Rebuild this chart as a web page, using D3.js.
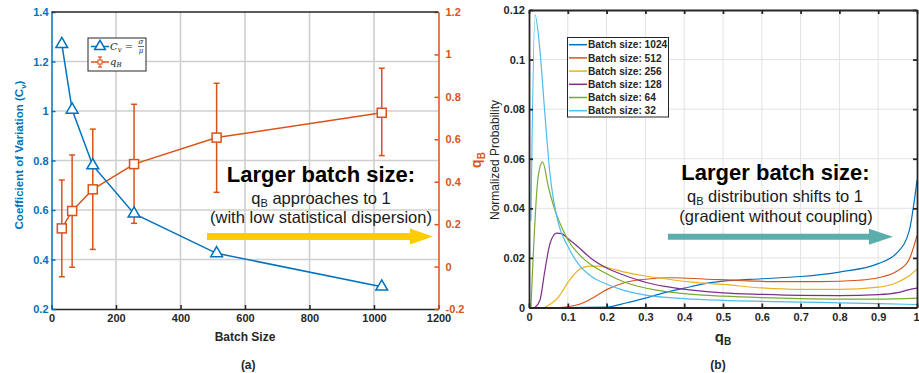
<!DOCTYPE html>
<html lang="en">
<head>
<meta charset="UTF-8">
<title>Batch size vs qB</title>
<style>
  body { margin: 0; background: #fff; }
  svg { display: block; font-family: "Liberation Sans", Arial, sans-serif; }
  .tick text { font-size: 11px; font-weight: bold; }
</style>
</head>
<body>
<script src="https://cdn.jsdelivr.net/npm/d3@7/dist/d3.min.js"></script>
<script>
// ---- (a) Cv and qB against batch size ----
var batchSizes = [32, 64, 128, 256, 512, 1024];
var cvValues = [1.27, 1.005, 0.78, 0.585, 0.425, 0.29];
var qbMean = [0.18, 0.262, 0.364, 0.483, 0.608, 0.725];
var qbLow = [-0.048, -0.003, 0.081, 0.204, 0.35, 0.523];
var qbHigh = [0.408, 0.526, 0.648, 0.765, 0.864, 0.935];
var xTicksA = [0, 200, 400, 600, 800, 1000, 1200];
var cvTicks = [0.2, 0.4, 0.6, 0.8, 1, 1.2, 1.4];
var qbTicks = [-0.2, 0, 0.2, 0.4, 0.6, 0.8, 1, 1.2];

// ---- (b) qB distributions ----
var legendB = ["Batch size: 1024", "Batch size: 512", "Batch size: 256", "Batch size: 128", "Batch size: 64", "Batch size: 32"];
var colorsB = ["#0072BD", "#D95319", "#EDB120", "#7E2F8E", "#77AC30", "#4DBEEE"];
var q1024 = [0.02, 0.1, 0.2, 0.25, 0.3, 0.35, 0.4, 0.45, 0.5, 0.6, 0.7, 0.8, 0.9, 0.95, 0.98, 1.0];
var p1024 = [0, 0, 0.0002, 0.0018, 0.0038, 0.006, 0.0078, 0.0095, 0.0106, 0.0116, 0.0125, 0.0143, 0.0177, 0.0223, 0.031, 0.0513];
var q512 = [0.04, 0.08, 0.1, 0.13, 0.16, 0.2, 0.25, 0.3, 0.37, 0.45, 0.55, 0.65, 0.75, 0.85, 0.9, 0.95, 0.98, 1.0];
var p512 = [0, 0, 0.0003, 0.0013, 0.0035, 0.0072, 0.0102, 0.0114, 0.012, 0.0115, 0.0108, 0.0104, 0.0104, 0.011, 0.012, 0.0148, 0.0195, 0.029];
var q256 = [0.04, 0.076, 0.1, 0.127, 0.153, 0.18, 0.204, 0.247, 0.3, 0.35, 0.42, 0.5, 0.6, 0.7, 0.8, 0.9, 0.95, 0.98, 1.0];
var p256 = [0, 0.0042, 0.01, 0.015, 0.0166, 0.0167, 0.016, 0.0143, 0.0127, 0.0116, 0.0102, 0.0093, 0.0079, 0.0073, 0.0073, 0.0082, 0.0102, 0.0128, 0.0155];
var q128 = [0.015, 0.028, 0.041, 0.054, 0.071, 0.084, 0.101, 0.127, 0.161, 0.204, 0.247, 0.3, 0.35, 0.42, 0.5, 0.6, 0.7, 0.8, 0.9, 0.95, 0.98, 1.0];
var p128 = [0, 0.0028, 0.015, 0.0257, 0.03, 0.0298, 0.0277, 0.0244, 0.0197, 0.0156, 0.0129, 0.0102, 0.0085, 0.007, 0.0059, 0.0053, 0.0049, 0.0048, 0.0052, 0.006, 0.0072, 0.0078];
var q64 = [0.005, 0.024, 0.035, 0.05, 0.067, 0.084, 0.101, 0.136, 0.2, 0.247, 0.333, 0.42, 0.5, 0.6, 0.7, 0.8, 0.9, 1.0];
var p64 = [0, 0.0533, 0.0587, 0.0486, 0.0392, 0.0325, 0.0271, 0.0203, 0.0136, 0.0102, 0.0069, 0.0053, 0.0046, 0.004, 0.0036, 0.0034, 0.0034, 0.0038];
var q32 = [0.005, 0.0155, 0.028, 0.04, 0.054, 0.0756, 0.101, 0.127, 0.161, 0.204, 0.247, 0.3, 0.4, 0.5, 0.6, 0.7, 0.8, 0.9, 1.0];
var p32 = [0.035, 0.118, 0.104, 0.08, 0.054, 0.034, 0.0244, 0.0176, 0.0125, 0.0092, 0.0068, 0.005, 0.0036, 0.0029, 0.0025, 0.0022, 0.0019, 0.0016, 0.0012];
var xTicksB = [0, 0.1, 0.2, 0.3, 0.4, 0.5, 0.6, 0.7, 0.8, 0.9, 1];
var yTicksB = [0, 0.02, 0.04, 0.06, 0.08, 0.1, 0.12];

var width = 919, height = 373;
var svg = d3.select("body").append("svg").attr("width", width).attr("height", height);

var blue = "#0072BD", orange = "#D95319", dark = "#262626";

// ================= panel (a) =================
var xA = d3.scaleLinear().domain([0, 1200]).range([51.5, 438.5]);
var yCv = d3.scaleLinear().domain([0.2, 1.4]).range([309, 12]);
var yQb = d3.scaleLinear().domain([-0.2, 1.2]).range([309, 12]);

var gA = svg.append("g");

// grid
gA.selectAll(".vgrid").data(xTicksA.slice(1, -1)).enter().append("line")
  .attr("x1", function(d) { return xA(d); }).attr("x2", function(d) { return xA(d); })
  .attr("y1", yCv(0.2)).attr("y2", yCv(1.4))
  .attr("stroke", "#cfcfcf").attr("stroke-width", 1.6);
gA.selectAll(".hgrid").data(cvTicks.slice(1, -1)).enter().append("line")
  .attr("x1", xA(0)).attr("x2", xA(1200))
  .attr("y1", function(d) { return yCv(d); }).attr("y2", function(d) { return yCv(d); })
  .attr("stroke", "#cfcfcf").attr("stroke-width", 1.6);

// axes
var axB = gA.append("g").attr("transform", "translate(0," + yCv(0.2) + ")")
  .call(d3.axisBottom(xA).tickValues(xTicksA).tickSizeInner(-4).tickSizeOuter(0).tickPadding(5).tickFormat(function(d) { return String(d); }));
axB.selectAll("line, path").attr("stroke", dark).attr("stroke-width", 1.5);
axB.selectAll("text").attr("fill", dark);

var axL = gA.append("g").attr("transform", "translate(" + xA(0) + ",0)")
  .call(d3.axisLeft(yCv).tickValues(cvTicks).tickSizeInner(-4).tickSizeOuter(0).tickPadding(3).tickFormat(function(d) { return String(d); }));
axL.selectAll("line, path").attr("stroke", blue).attr("stroke-width", 1.5);
axL.selectAll("text").attr("fill", blue);

var axR = gA.append("g").attr("transform", "translate(" + xA(1200) + ",0)")
  .call(d3.axisRight(yQb).tickValues(qbTicks).tickSizeInner(-4).tickSizeOuter(0).tickPadding(7).tickFormat(function(d) { return String(d); }));
axR.selectAll("line, path").attr("stroke", orange).attr("stroke-width", 1.5);
axR.selectAll("text").attr("fill", orange);

gA.append("line").attr("x1", xA(0)).attr("x2", xA(1200)).attr("y1", yCv(1.4)).attr("y2", yCv(1.4))
  .attr("stroke", dark).attr("stroke-width", 1.5);

// axis labels
gA.append("text").attr("x", xA(600)).attr("y", 341).attr("text-anchor", "middle")
  .attr("font-size", 12).attr("font-weight", "bold").attr("fill", dark).text("Batch Size");
var cvLab = gA.append("text").attr("transform", "translate(23,155) rotate(-90)").attr("text-anchor", "middle")
  .attr("font-size", 11.5).attr("font-weight", "bold").attr("fill", blue);
cvLab.append("tspan").text("Coefficient of Variation (C");
cvLab.append("tspan").attr("font-size", 8).attr("dy", 3).text("v");
cvLab.append("tspan").attr("dy", -3).text(")");
var qbLab = gA.append("text").attr("transform", "translate(481,160) rotate(-90)").attr("text-anchor", "middle")
  .attr("font-size", 14).attr("font-weight", "bold").attr("fill", orange);
qbLab.append("tspan").text("q");
qbLab.append("tspan").attr("font-size", 10).attr("dy", 4).text("B");
gA.append("text").attr("x", xA(610)).attr("y", 369).attr("text-anchor", "middle")
  .attr("font-size", 12).attr("font-weight", "bold").attr("fill", dark).text("(a)");

// qB with error bars
var qbData = batchSizes.map(function(b, i) { return { b: b, m: qbMean[i], lo: qbLow[i], hi: qbHigh[i] }; });
gA.append("path").datum(qbData)
  .attr("fill", "none").attr("stroke", orange).attr("stroke-width", 1.5)
  .attr("d", d3.line().x(function(d) { return xA(d.b); }).y(function(d) { return yQb(d.m); }));
var eb = gA.selectAll(".eb").data(qbData).enter().append("g");
eb.append("line").attr("x1", function(d) { return xA(d.b); }).attr("x2", function(d) { return xA(d.b); })
  .attr("y1", function(d) { return yQb(d.lo); }).attr("y2", function(d) { return yQb(d.hi); })
  .attr("stroke", orange).attr("stroke-width", 1.5);
eb.append("line").attr("x1", function(d) { return xA(d.b) - 3; }).attr("x2", function(d) { return xA(d.b) + 3; })
  .attr("y1", function(d) { return yQb(d.lo); }).attr("y2", function(d) { return yQb(d.lo); })
  .attr("stroke", orange).attr("stroke-width", 1.5);
eb.append("line").attr("x1", function(d) { return xA(d.b) - 3; }).attr("x2", function(d) { return xA(d.b) + 3; })
  .attr("y1", function(d) { return yQb(d.hi); }).attr("y2", function(d) { return yQb(d.hi); })
  .attr("stroke", orange).attr("stroke-width", 1.5);
eb.append("rect").attr("x", function(d) { return xA(d.b) - 4.5; }).attr("y", function(d) { return yQb(d.m) - 4.5; })
  .attr("width", 9).attr("height", 9).attr("fill", "#fff").attr("stroke", orange).attr("stroke-width", 1.5);

// Cv line
gA.append("path").datum(batchSizes)
  .attr("fill", "none").attr("stroke", blue).attr("stroke-width", 1.5)
  .attr("d", d3.line().x(function(d) { return xA(d); }).y(function(d, i) { return yCv(cvValues[i]); }));
gA.selectAll(".tri").data(batchSizes).enter().append("path")
  .attr("transform", function(d, i) { return "translate(" + xA(d) + "," + yCv(cvValues[i]) + ")"; })
  .attr("d", d3.symbol(d3.symbolTriangle, 60))
  .attr("fill", "#fff").attr("stroke", blue).attr("stroke-width", 1.5);

// legend (a)
var lgA = gA.append("g");
lgA.append("rect").attr("x", 88).attr("y", 38).attr("width", 58).attr("height", 33)
  .attr("fill", "#fff").attr("stroke", dark).attr("stroke-width", 1);
lgA.append("line").attr("x1", 91).attr("x2", 109).attr("y1", 46.5).attr("y2", 46.5).attr("stroke", blue).attr("stroke-width", 1.5);
lgA.append("path").attr("transform", "translate(100,46.5)").attr("d", d3.symbol(d3.symbolTriangle, 50))
  .attr("fill", "#fff").attr("stroke", blue).attr("stroke-width", 1.5);
var cvT = lgA.append("text").attr("x", 110).attr("y", 50).attr("font-family", "'DejaVu Serif', serif").attr("fill", dark).attr("font-size", 10);
cvT.append("tspan").attr("font-style", "italic").text("C");
cvT.append("tspan").attr("font-style", "italic").attr("font-size", 7).attr("dy", 2).text("v");
cvT.append("tspan").attr("dy", -2).text(" = ");
lgA.append("text").attr("x", 141).attr("y", 44).attr("text-anchor", "middle").attr("font-family", "'DejaVu Serif', serif")
  .attr("font-style", "italic").attr("font-size", 7).attr("fill", dark).text("σ");
lgA.append("line").attr("x1", 138).attr("x2", 144).attr("y1", 46.5).attr("y2", 46.5).attr("stroke", dark).attr("stroke-width", 0.7);
lgA.append("text").attr("x", 141).attr("y", 52.5).attr("text-anchor", "middle").attr("font-family", "'DejaVu Serif', serif")
  .attr("font-style", "italic").attr("font-size", 7).attr("fill", dark).text("μ");
lgA.append("line").attr("x1", 91).attr("x2", 109).attr("y1", 62).attr("y2", 62).attr("stroke", orange).attr("stroke-width", 1.5);
lgA.append("line").attr("x1", 100).attr("x2", 100).attr("y1", 57).attr("y2", 67).attr("stroke", orange).attr("stroke-width", 1.2);
lgA.append("line").attr("x1", 98).attr("x2", 102).attr("y1", 57).attr("y2", 57).attr("stroke", orange).attr("stroke-width", 1.2);
lgA.append("line").attr("x1", 98).attr("x2", 102).attr("y1", 67).attr("y2", 67).attr("stroke", orange).attr("stroke-width", 1.2);
lgA.append("rect").attr("x", 98).attr("y", 60).attr("width", 4).attr("height", 4).attr("fill", "#fff").attr("stroke", orange).attr("stroke-width", 1);
var qT = lgA.append("text").attr("x", 110).attr("y", 65).attr("font-family", "'DejaVu Serif', serif").attr("font-style", "italic").attr("fill", dark).attr("font-size", 10);
qT.append("tspan").text("q");
qT.append("tspan").attr("font-size", 7).attr("dy", 2).text("B");

// annotation (a)
gA.append("text").attr("x", 321).attr("y", 182).attr("text-anchor", "middle")
  .attr("font-size", 22).attr("font-weight", "bold").attr("fill", "#000").text("Larger batch size:");
var a1 = gA.append("text").attr("x", 321).attr("y", 204).attr("text-anchor", "middle").attr("font-size", 16.5).attr("fill", "#1a1a1a");
a1.append("tspan").text("q");
a1.append("tspan").attr("font-size", 11).attr("dy", 3).text("B");
a1.append("tspan").attr("dy", -3).text(" approaches to 1");
gA.append("text").attr("x", 321).attr("y", 223).attr("text-anchor", "middle").attr("font-size", 16.5).attr("fill", "#1a1a1a")
  .text("(with low statistical dispersion)");
function arrow(g, x0, x1, y, shaft, headW, headL, color) {
  g.append("path").attr("fill", color)
    .attr("d", "M" + x0 + "," + (y - shaft / 2) + "H" + (x1 - headL) + "V" + (y - headW / 2) + "L" + x1 + "," + y +
      "L" + (x1 - headL) + "," + (y + headW / 2) + "V" + (y + shaft / 2) + "H" + x0 + "Z");
}
arrow(gA, xA(482), xA(1183), yQb(0.142), 7, 16, 23, "#FFCC00");

// ================= panel (b) =================
var xB = d3.scaleLinear().domain([0, 1]).range([529, 917]);
var yB = d3.scaleLinear().domain([0, 0.12]).range([307.5, 10]);
var gB = svg.append("g");

gB.selectAll(".vgrid").data(xTicksB.slice(1, -1)).enter().append("line")
  .attr("x1", function(d) { return xB(d); }).attr("x2", function(d) { return xB(d); })
  .attr("y1", yB(0)).attr("y2", yB(0.12)).attr("stroke", "#e2e2e2").attr("stroke-width", 1);
gB.selectAll(".hgrid").data(yTicksB.slice(1, -1)).enter().append("line")
  .attr("x1", xB(0)).attr("x2", xB(1))
  .attr("y1", function(d) { return yB(d); }).attr("y2", function(d) { return yB(d); })
  .attr("stroke", "#e2e2e2").attr("stroke-width", 1);

var seriesB = [[q1024, p1024], [q512, p512], [q256, p256], [q128, p128], [q64, p64], [q32, p32]];
var lineB = d3.line().x(function(d) { return xB(d[0]); }).y(function(d) { return yB(d[1]); }).curve(d3.curveMonotoneX);
seriesB.forEach(function(s, i) {
  var pts = s[0].map(function(q, j) { return [q, s[1][j]]; });
  gB.append("path").datum(pts).attr("fill", "none").attr("stroke", colorsB[i]).attr("stroke-width", 1.2).attr("d", lineB);
});

var bxB = gB.append("g").attr("transform", "translate(0," + yB(0) + ")")
  .call(d3.axisBottom(xB).tickValues(xTicksB).tickSizeInner(-4).tickSizeOuter(0).tickPadding(6).tickFormat(function(d) { return String(d); }));
// last label sits on the window edge: nudge it inward so it stays visible
bxB.selectAll(".tick text").filter(function(d) { return d === 1; }).attr("text-anchor", "end").attr("dx", 2);
var byB = gB.append("g").attr("transform", "translate(" + xB(0) + ",0)")
  .call(d3.axisLeft(yB).tickValues(yTicksB).tickSizeInner(-4).tickSizeOuter(0).tickPadding(4).tickFormat(function(d) { return String(d); }));
var txB = gB.append("g").attr("transform", "translate(0," + yB(0.12) + ")")
  .call(d3.axisTop(xB).tickValues(xTicksB).tickSizeInner(-4).tickSizeOuter(0).tickFormat(""));
var ryB = gB.append("g").attr("transform", "translate(" + xB(1) + ",0)")
  .call(d3.axisRight(yB).tickValues(yTicksB).tickSizeInner(-4).tickSizeOuter(0).tickFormat(""));
[bxB, byB, txB, ryB].forEach(function(a) {
  a.selectAll("line, path").attr("stroke", dark).attr("stroke-width", 1.8);
  a.selectAll("text").attr("fill", dark);
});

gB.append("text").attr("transform", "translate(499,160) rotate(-90)").attr("text-anchor", "middle")
  .attr("font-size", 12).attr("fill", dark).text("Normalized Probability");
var qx = gB.append("text").attr("x", 723).attr("y", 342).attr("text-anchor", "middle")
  .attr("font-size", 15).attr("font-weight", "bold").attr("fill", dark);
qx.append("tspan").text("q");
qx.append("tspan").attr("font-size", 10).attr("dy", 3).text("B");
gB.append("text").attr("x", 718).attr("y", 369).attr("text-anchor", "middle")
  .attr("font-size", 12).attr("font-weight", "bold").attr("fill", dark).text("(b)");

// legend (b)
var lgB = gB.append("g");
lgB.append("rect").attr("x", 567.5).attr("y", 37.5).attr("width", 101).attr("height", 79.5)
  .attr("fill", "#fff").attr("stroke", dark).attr("stroke-width", 1);
legendB.forEach(function(name, i) {
  var y = 44.7 + i * 13.2;
  lgB.append("line").attr("x1", 569).attr("x2", 587).attr("y1", y).attr("y2", y).attr("stroke", colorsB[i]).attr("stroke-width", 1.5);
  lgB.append("text").attr("x", 588).attr("y", y + 3.7).attr("font-size", 10.2).attr("font-weight", "bold").attr("fill", dark).text(name);
});

// annotation (b)
gB.append("text").attr("x", 775.5).attr("y", 180).attr("text-anchor", "middle")
  .attr("font-size", 22).attr("font-weight", "bold").attr("fill", "#000").text("Larger batch size:");
var b1 = gB.append("text").attr("x", 775).attr("y", 202).attr("text-anchor", "middle").attr("font-size", 16.5).attr("fill", "#1a1a1a");
b1.append("tspan").text("q");
b1.append("tspan").attr("font-size", 11).attr("dy", 3).text("B");
b1.append("tspan").attr("dy", -3).text(" distribution shifts to 1");
gB.append("text").attr("x", 776).attr("y", 222).attr("text-anchor", "middle").attr("font-size", 16.5).attr("fill", "#1a1a1a")
  .text("(gradient without coupling)");
arrow(gB, xB(0.358), xB(0.938), yB(0.0285), 6, 16, 24, "#5AAFAD");
</script>
</body>
</html>
